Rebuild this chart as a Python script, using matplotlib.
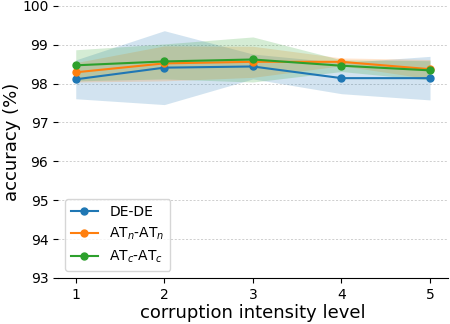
import matplotlib
matplotlib.use('Agg')
import matplotlib.pyplot as plt
import numpy as np

# corruption intensity levels
levels = [1, 2, 3, 4, 5]

# mean accuracy (%) and spread for each training setup
de_mean = [98.11, 98.41, 98.44, 98.14, 98.14]
de_std = [0.50, 0.95, 0.32, 0.40, 0.56]

atn_mean = [98.29, 98.52, 98.56, 98.56, 98.37]
atn_std = [0.25, 0.45, 0.40, 0.10, 0.25]

atc_mean = [98.47, 98.57, 98.62, 98.46, 98.34]
atc_std = [0.40, 0.45, 0.58, 0.15, 0.25]

series = [
    ('DE-DE', de_mean, de_std, 'tab:blue'),
    (r'AT$_n$-AT$_n$', atn_mean, atn_std, 'tab:orange'),
    (r'AT$_c$-AT$_c$', atc_mean, atc_std, 'tab:green'),
]

fig = plt.figure(figsize=(4.5, 3.24), dpi=100)
ax = fig.add_axes([0.129, 0.142, 0.866, 0.84])

for label, m, s, c in series:
    m = np.array(m)
    s = np.array(s)
    ax.fill_between(levels, m - s, m + s, color=c, alpha=0.2, linewidth=0)
    ax.plot(levels, m, marker='o', markersize=5, color=c, label=label)

ax.set_ylim(93, 100)
ax.set_xlim(0.8, 5.2)
ax.set_xticks(levels)
ax.set_yticks(range(93, 101))
ax.tick_params(labelsize=10)
ax.yaxis.grid(True, linestyle=(0, (2.5, 2)), color='#c8c8c8', linewidth=0.6)
ax.set_axisbelow(True)
for sp in ['top', 'right', 'left']:
    ax.spines[sp].set_visible(False)

ax.set_xlabel('corruption intensity level', fontsize=13, labelpad=2)
ax.set_ylabel('accuracy (%)', fontsize=13, labelpad=1)
ax.legend(loc='lower left', fontsize=10)

fig.savefig('out.png', dpi=100)
